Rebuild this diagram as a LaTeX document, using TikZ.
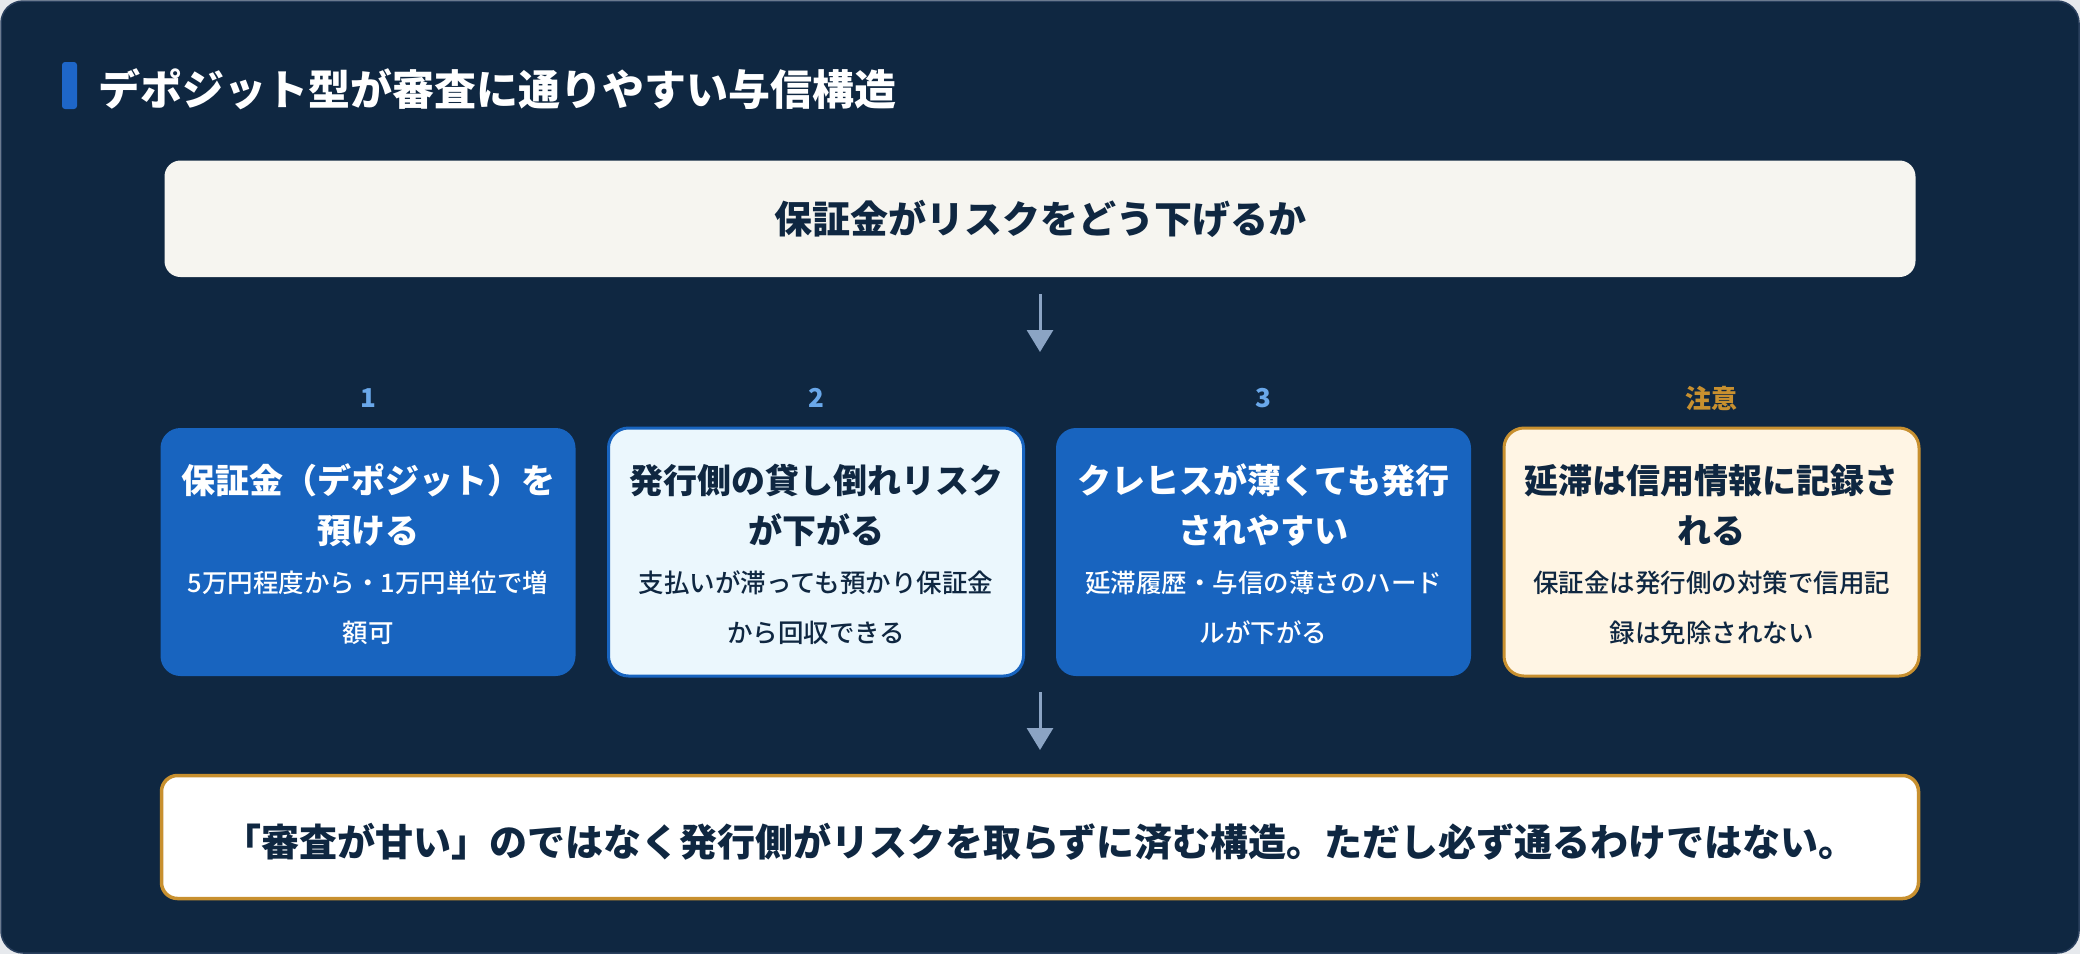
\documentclass[tikz,border=0pt]{standalone}
\usepackage{fontspec}
\setmainfont{Noto Sans CJK JP}
\newfontfamily\jpmedium{Noto Sans CJK JP Medium}
\usetikzlibrary{arrows.meta}
\definecolor{pagebg}{HTML}{E6E9ED}
\definecolor{bgdark}{HTML}{0F2741}
\definecolor{paneledge}{HTML}{2A405E}
\definecolor{accent}{HTML}{1E66C8}
\definecolor{boxblue}{HTML}{1864BF}
\definecolor{navytext}{HTML}{0F2741}
\definecolor{creambox}{HTML}{F6F5F0}
\definecolor{lightcyan}{HTML}{EBF7FD}
\definecolor{gold}{HTML}{C8902F}
\definecolor{cautionfill}{HTML}{FFF5E4}
\definecolor{numblue}{HTML}{6AA8EA}
\definecolor{arrowgray}{HTML}{8BA4C4}
\tikzset{
  card/.style={rounded corners=20pt, minimum width=415pt, minimum height=248pt, inner sep=0pt},
  cardblue/.style={card, fill=boxblue},
  cardlight/.style={card, fill=lightcyan, draw=boxblue, line width=3pt},
  cardwarn/.style={card, fill=cautionfill, draw=gold, line width=3pt},
  cardtitle/.style={font=\bfseries\fontsize{34}{50}\selectfont, align=center, inner sep=0pt},
  carddesc/.style={font=\jpmedium\fontsize{25.5}{50}\selectfont, align=center, inner sep=0pt},
  numlabel/.style={font=\bfseries\fontsize{26}{30}\selectfont, inner sep=0pt},
  flow/.style={draw=arrowgray, line width=3pt, -{Triangle[width=26pt,length=22pt]}},
  banner/.style={rounded corners=16pt, inner sep=0pt},
}
\begin{document}
\begin{tikzpicture}[x=1pt,y=-1pt]
\useasboundingbox (0,0) rectangle (2080,954);
\fill[pagebg] (0,0) rectangle (2080,954);
\draw[fill=bgdark, draw=paneledge, line width=1.5pt, rounded corners=22pt] (1,1) rectangle (2079,953);
% title
\fill[accent, rounded corners=3pt] (62,62) rectangle (77,109);
\node[anchor=west, inner sep=0pt, text=white, font=\bfseries\fontsize{42}{50}\selectfont] (title) at (98,89) {デポジット型が審査に通りやすい与信構造};
% top banner
\node[banner, fill=creambox, minimum width=1751pt, minimum height=116.5pt] (top) at (1040,218.75) {};
\node[inner sep=0pt, text=navytext, font=\bfseries\fontsize{38}{45}\selectfont] (toptext) at (top.center) {保証金がリスクをどう下げるか};
% arrow 1
\coordinate (a1s) at (1040,294);
\coordinate (a1e) at (1040,352);
\draw[flow] (a1s) -- (a1e);
% number labels
\node[numlabel, text=numblue] (n1) at (368,398) {1};
\node[numlabel, text=numblue] (n2) at (816,398) {2};
\node[numlabel, text=numblue] (n3) at (1263.5,398) {3};
\node[numlabel, text=gold] (n4) at (1711.5,398) {注意};
% cards
\node[cardblue] (c1) at (368,552) {};
\node[cardlight] (c2) at (816,552) {};
\node[cardblue] (c3) at (1263.5,552) {};
\node[cardwarn] (c4) at (1711.5,552) {};
\node[cardtitle, text=white] (c1t) at (368,505) {保証金（デポジット）を\\預ける};
\node[carddesc, text=white] (c1d) at (368,608) {5万円程度から・1万円単位で増\\額可};
\node[cardtitle, text=navytext] (c2t) at (816,505) {発行側の貸し倒れリスク\\が下がる};
\node[carddesc, text=navytext] (c2d) at (816,608) {支払いが滞っても預かり保証金\\から回収できる};
\node[cardtitle, text=white] (c3t) at (1263.5,505) {クレヒスが薄くても発行\\されやすい};
\node[carddesc, text=white] (c3d) at (1263.5,608) {延滞履歴・与信の薄さのハード\\ルが下がる};
\node[cardtitle, text=navytext] (c4t) at (1711.5,505) {延滞は信用情報に記録さ\\れる};
\node[carddesc, text=navytext] (c4d) at (1711.5,608) {保証金は発行側の対策で信用記\\録は免除されない};
% arrow 2
\coordinate (a2s) at (1040,692);
\coordinate (a2e) at (1040,750);
\draw[flow] (a2s) -- (a2e);
% bottom banner
\node[banner, fill=white, draw=gold, line width=3.5pt, minimum width=1757pt, minimum height=123pt] (bottom) at (1040,837) {};
\node[inner sep=0pt, text=navytext, font=\bfseries\fontsize{38}{45}\selectfont] (bottomtext) at (1040,842) {「審査が甘い」のではなく発行側がリスクを取らずに済む構造。ただし必ず通るわけではない。};
\end{tikzpicture}
\end{document}
